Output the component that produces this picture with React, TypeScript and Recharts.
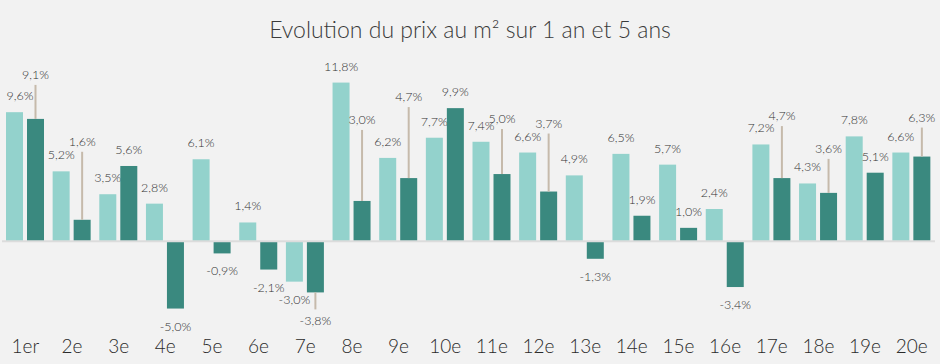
import React from 'react';
import { BarChart, Bar, XAxis, YAxis, ReferenceLine } from 'recharts';

const categories = ['1er', '2e', '3e', '4e', '5e', '6e', '7e', '8e', '9e', '10e', '11e', '12e', '13e', '14e', '15e', '16e', '17e', '18e', '19e', '20e'];
const evolution1an = [9.6, 5.2, 3.5, 2.8, 6.1, 1.4, -3.0, 11.8, 6.2, 7.7, 7.4, 6.6, 4.9, 6.5, 5.7, 2.4, 7.2, 4.3, 7.8, 6.6];
const evolution5ans = [9.1, 1.6, 5.6, -5.0, -0.9, -2.1, -3.8, 3.0, 4.7, 9.9, 5.0, 3.7, -1.3, 1.9, 1.0, -3.4, 4.7, 3.6, 5.1, 6.3];
// extra offset (px) of the 5-year labels, drawn with a leader line when > 0
const labelLift5ans = [28, 62, 0, 0, 0, 0, 11, 65, 65, 0, 39, 52, 0, 0, 0, 0, 46, 28, 0, 23];

const data = categories.map((c, i) => ({ arr: c, an1: evolution1an[i], ans5: evolution5ans[i], lift: labelLift5ans[i] }));

const fmt = (v: number) => v.toFixed(1).replace('.', ',') + '%';

const LIGHT = '#93d2cc';
const DARK = '#3a897f';
const LEADER = '#c6baab';
const TEXT = '#333333';
const FONT = 'Lato, "Open Sans", sans-serif';

const LightShape = (p: any) => {
  const { x, y, width, height, payload } = p;
  const v = payload.an1;
  const top = Math.min(y, y + height);
  const h = Math.abs(height);
  const cx = Math.max(x + width / 2, 20);
  const ty = v >= 0 ? top - 12 : top + h + 22;
  return (
    <g>
      <rect x={x} y={top} width={width} height={h} fill={LIGHT} />
      <text x={cx} y={ty} textAnchor="middle" fontSize={12.5} fontWeight={300} fill={TEXT} fontFamily={FONT}>{fmt(v)}</text>
    </g>
  );
};

const DarkShape = (p: any) => {
  const { x, y, width, height, payload } = p;
  const v = payload.ans5;
  const lift = payload.lift || 0;
  const top = Math.min(y, y + height);
  const h = Math.abs(height);
  const cx = x + width / 2;
  const ty = v >= 0 ? top - 12 - lift : top + h + 22 + lift;
  return (
    <g>
      <rect x={x} y={top} width={width} height={h} fill={DARK} />
      {lift > 0 && v >= 0 && (
        <line x1={cx} x2={cx} y1={top} y2={top - lift - 6} stroke={LEADER} strokeWidth={2} />
      )}
      {lift > 0 && v < 0 && (
        <line x1={cx} x2={cx} y1={top + h} y2={top + h + lift + 6} stroke={LEADER} strokeWidth={2} />
      )}
      <text x={cx} y={ty} textAnchor="middle" fontSize={12.5} fontWeight={300} fill={TEXT} fontFamily={FONT}>{fmt(v)}</text>
    </g>
  );
};

export default function App() {
  return (
    <div style={{ position: 'absolute', left: 0, top: 0, width: 940, height: 364, background: '#f2f2f2', fontFamily: FONT }}>
      <div style={{ position: 'absolute', left: 0, top: 14, width: 940, textAlign: 'center', fontSize: 23, fontWeight: 300, color: '#3a3a3a', lineHeight: '30px' }}>
        Evolution du prix au m² sur 1 an et 5 ans
      </div>
      <BarChart width={940} height={364} data={data} margin={{ top: 53, right: 5, left: 2, bottom: 0 }} barCategoryGap={4} barGap={4}>
        <XAxis dataKey="arr" tickLine={false} axisLine={false} interval={0} height={42} tickMargin={12} tick={{ fontSize: 19, fontWeight: 300, fill: '#2a2a2a', fontFamily: FONT }} />
        <YAxis hide domain={[-6, 14]} />
        <Bar dataKey="an1" isAnimationActive={false} shape={LightShape} />
        <Bar dataKey="ans5" isAnimationActive={false} shape={DarkShape} />
        <ReferenceLine y={0} stroke="#dcdcdc" strokeWidth={2} />
      </BarChart>
    </div>
  );
}
